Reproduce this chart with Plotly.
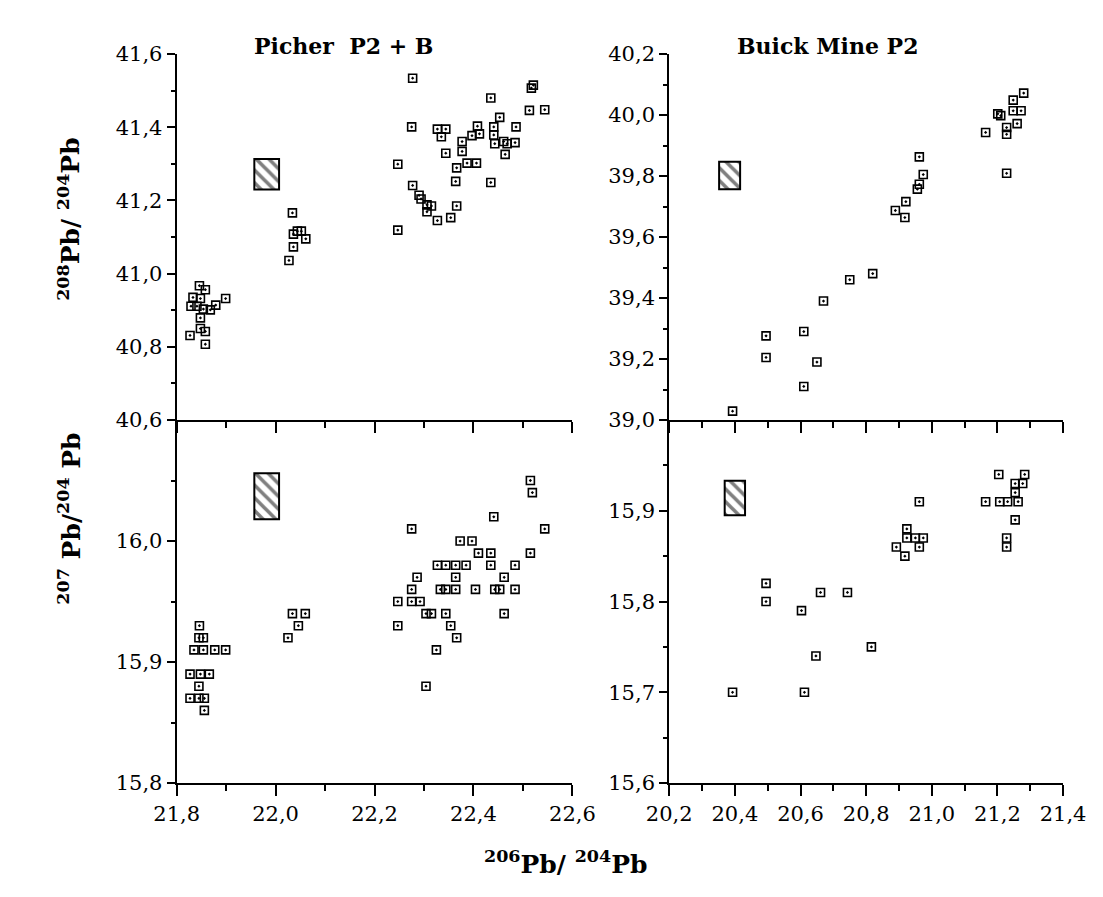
import plotly.graph_objects as go

# ---------------- data ----------------
# Picher P2 + B : 208Pb/204Pb vs 206Pb/204Pb
picher_208_x = [21.846, 21.858, 21.833, 21.848, 21.899, 21.829, 21.841, 21.854, 21.868, 21.879,
                21.848, 21.827, 21.848, 21.858, 21.858,
                22.034, 22.044, 22.036, 22.052, 22.061, 22.036, 22.027,
                22.277, 22.275, 22.247, 22.277, 22.290, 22.294, 22.306, 22.315, 22.306, 22.327,
                22.354, 22.366, 22.247, 22.364, 22.366, 22.344, 22.327, 22.344, 22.335, 22.377,
                22.377, 22.387, 22.406, 22.397, 22.408, 22.412, 22.435, 22.435, 22.453, 22.441,
                22.441, 22.443, 22.461, 22.468, 22.464, 22.486, 22.484, 22.513, 22.521, 22.517, 22.544]
picher_208_y = [40.967, 40.956, 40.935, 40.932, 40.932, 40.911, 40.911, 40.903, 40.901, 40.914,
                40.879, 40.831, 40.850, 40.842, 40.807,
                41.166, 41.116, 41.108, 41.116, 41.095, 41.073, 41.036,
                41.534, 41.401, 41.299, 41.241, 41.214, 41.204, 41.188, 41.185, 41.169, 41.145,
                41.153, 41.185, 41.119, 41.252, 41.289, 41.329, 41.395, 41.395, 41.374, 41.361,
                41.334, 41.302, 41.302, 41.377, 41.403, 41.382, 41.480, 41.249, 41.427, 41.401,
                41.379, 41.355, 41.361, 41.355, 41.326, 41.401, 41.358, 41.446, 41.515, 41.507, 41.448]

# Picher P2 + B : 207Pb/204Pb vs 206Pb/204Pb
picher_207_x = [21.846, 21.854, 21.845, 21.835, 21.854, 21.877, 21.899, 21.827, 21.848, 21.866,
                21.845, 21.827, 21.845, 21.856, 21.856,
                22.034, 22.060, 22.046, 22.025,
                22.515, 22.519, 22.441, 22.275, 22.544, 22.373, 22.397, 22.410, 22.435, 22.435,
                22.515, 22.327, 22.344, 22.364, 22.385, 22.484, 22.286, 22.364, 22.462, 22.275,
                22.333, 22.344, 22.364, 22.404, 22.443, 22.453, 22.484, 22.247, 22.275, 22.292,
                22.304, 22.315, 22.344, 22.462, 22.247, 22.354, 22.366, 22.325, 22.304]
picher_207_y = [15.93, 15.92, 15.92, 15.91, 15.91, 15.91, 15.91, 15.89, 15.89, 15.89,
                15.88, 15.87, 15.87, 15.87, 15.86,
                15.94, 15.94, 15.93, 15.92,
                16.05, 16.04, 16.02, 16.01, 16.01, 16.00, 16.00, 15.99, 15.99, 15.98,
                15.99, 15.98, 15.98, 15.98, 15.98, 15.98, 15.97, 15.97, 15.97, 15.96,
                15.96, 15.96, 15.96, 15.96, 15.96, 15.96, 15.96, 15.95, 15.95, 15.95,
                15.94, 15.94, 15.94, 15.94, 15.93, 15.93, 15.92, 15.91, 15.88]

# Buick Mine P2 : 208Pb/204Pb vs 206Pb/204Pb
buick_208_x = [21.280, 21.248, 21.248, 21.272, 21.210, 21.201, 21.260, 21.164, 21.228, 21.228,
               21.228, 20.962, 20.974, 20.962, 20.956, 20.921, 20.889, 20.918, 20.495, 20.495,
               20.393, 20.610, 20.610, 20.650, 20.670, 20.750, 20.820]
buick_208_y = [40.072, 40.049, 40.014, 40.014, 39.998, 40.004, 39.972, 39.943, 39.959, 39.937,
               39.809, 39.863, 39.805, 39.773, 39.757, 39.716, 39.687, 39.664, 39.276, 39.205,
               39.029, 39.290, 39.110, 39.190, 39.390, 39.460, 39.480]

# Buick Mine P2 : 207Pb/204Pb vs 206Pb/204Pb
buick_207_x = [21.204, 21.283, 21.277, 21.254, 21.254, 21.164, 21.207, 21.231, 21.263, 21.254,
               21.228, 21.228, 20.962, 20.924, 20.924, 20.950, 20.974, 20.962, 20.892, 20.918,
               20.495, 20.495, 20.603, 20.661, 20.743, 20.647, 20.816, 20.393, 20.612]
buick_207_y = [15.94, 15.94, 15.93, 15.93, 15.92, 15.91, 15.91, 15.91, 15.91, 15.89,
               15.87, 15.86, 15.91, 15.88, 15.87, 15.87, 15.87, 15.86, 15.86, 15.85,
               15.82, 15.80, 15.79, 15.81, 15.81, 15.74, 15.75, 15.70, 15.70]

# hatched reference fields: [x0, x1, y0, y1]
picher_208_box = [21.957, 22.007, 41.230, 41.313]
picher_207_box = [21.957, 22.007, 16.018, 16.056]
buick_208_box = [20.352, 20.416, 39.757, 39.847]
buick_207_box = [20.369, 20.431, 15.895, 15.933]

panel_titles = ["Picher  P2 + B", "Buick Mine P2"]

# ---------------- figure ----------------
W, H = 1103, 897
FONT = "DejaVu Serif"
fig = go.Figure()

panels = [
    ("x", "y", picher_208_x, picher_208_y, picher_208_box),
    ("x2", "y2", buick_208_x, buick_208_y, buick_208_box),
    ("x3", "y3", picher_207_x, picher_207_y, picher_207_box),
    ("x4", "y4", buick_207_x, buick_207_y, buick_207_box),
]

for xa, ya, xs, ys, box in panels:
    x0, x1, y0, y1 = box
    fig.add_trace(go.Bar(
        x=[(x0 + x1) / 2], y=[y1 - y0], base=[y0], width=[x1 - x0],
        xaxis=xa, yaxis=ya, showlegend=False,
        marker=dict(color="white", line=dict(color="black", width=2),
                    pattern=dict(shape="\\", fgcolor="black", bgcolor="white",
                                 size=9, solidity=0.4)),
    ))
    fig.add_trace(go.Scatter(
        x=xs, y=ys, mode="markers", xaxis=xa, yaxis=ya, showlegend=False,
        cliponaxis=False,
        marker=dict(symbol="square-open-dot", size=8, color="black",
                    line=dict(color="black", width=1.6)),
    ))

def px_x(p):
    return p / W

def px_y(p):
    return 1 - p / H

left_dom = [px_x(152), px_x(565)]
right_dom = [px_x(666), px_x(1077)]
top_dom = [px_y(411), px_y(35)]
bot_dom = [px_y(784), px_y(411)]

tickfont = dict(family=FONT, size=21, color="black")

def xaxis(dom, rng, anchor, show_labels, tick0):
    return dict(domain=dom, range=rng, anchor=anchor, showgrid=False, zeroline=False,
                showline=True, linecolor="black", linewidth=2, mirror=False,
                ticks="outside", ticklen=11, tickwidth=2, tickcolor="black",
                tick0=tick0, dtick=0.2, tickformat=".1f", showticklabels=show_labels,
                tickfont=tickfont,
                minor=dict(ticks="outside", ticklen=6, tickwidth=2, tickcolor="black",
                           dtick=0.1, tick0=tick0, showgrid=False))

def yaxis(dom, rng, anchor, tickvals, minorvals):
    return dict(domain=dom, range=rng, anchor=anchor, showgrid=False, zeroline=False,
                showline=True, linecolor="black", linewidth=2, mirror=False,
                ticks="outside", ticklen=8, tickwidth=2, tickcolor="black",
                tickmode="array", tickvals=tickvals, tickformat=".1f",
                tickfont=tickfont,
                minor=dict(ticks="outside", ticklen=4, tickwidth=2, tickcolor="black",
                           tickmode="array", tickvals=minorvals, showgrid=False))

fig.update_layout(
    width=W, height=H,
    margin=dict(l=0, r=0, t=0, b=0),
    paper_bgcolor="white", plot_bgcolor="white",
    separators=", ",
    barmode="overlay",
    xaxis=xaxis(left_dom, [21.8, 22.6], "y", False, 21.8),
    yaxis=yaxis(top_dom, [40.6, 41.6], "x",
                [40.6, 40.8, 41.0, 41.2, 41.4, 41.6], [40.7, 40.9, 41.1, 41.3, 41.5]),
    xaxis2=xaxis(right_dom, [20.2, 21.4], "y2", False, 20.2),
    yaxis2=yaxis(top_dom, [39.0, 40.2], "x2",
                 [39.0, 39.2, 39.4, 39.6, 39.8, 40.0, 40.2], [39.1, 39.3, 39.5, 39.7, 39.9, 40.1]),
    xaxis3=xaxis(left_dom, [21.8, 22.6], "y3", True, 21.8),
    yaxis3=yaxis(bot_dom, [15.8, 16.1], "x3", [15.8, 15.9, 16.0], [15.85, 15.95, 16.05]),
    xaxis4=xaxis(right_dom, [20.2, 21.4], "y4", True, 20.2),
    yaxis4=yaxis(bot_dom, [15.6, 16.0], "x4", [15.6, 15.7, 15.8, 15.9],
                 [15.65, 15.75, 15.85, 15.95]),
)

bold = dict(family=FONT, size=22, color="black")
label_font = dict(family=FONT, size=25, color="black")
annos = [
    dict(text="<b>%s</b>" % panel_titles[0], x=px_x(326), y=px_y(27), font=bold),
    dict(text="<b>%s</b>" % panel_titles[1], x=px_x(831), y=px_y(27), font=bold),
    dict(text="<b><sup>208</sup>Pb/ <sup>204</sup>Pb</b>", x=px_x(40), y=px_y(205),
         textangle=-90, font=label_font),
    dict(text="<b><sup>207</sup> Pb/<sup>204</sup> Pb</b>", x=px_x(40), y=px_y(512),
         textangle=-90, font=label_font),
    dict(text="<b><sup>206</sup>Pb/ <sup>204</sup>Pb</b>", x=px_x(558), y=px_y(866),
         font=label_font),
]
for a in annos:
    fig.add_annotation(xref="paper", yref="paper", showarrow=False,
                       xanchor="center", yanchor="middle", **a)

fig.write_html("out.html")
